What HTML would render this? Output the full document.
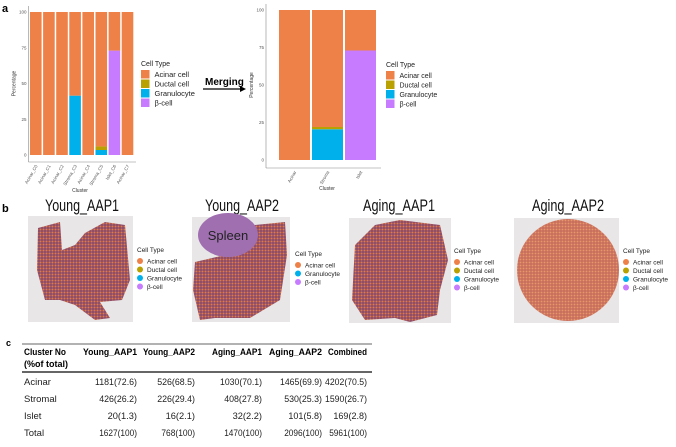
<!DOCTYPE html>
<html><head><meta charset="utf-8"><style>
html,body{margin:0;padding:0;background:#fff}
svg{display:block;font-family:"Liberation Sans",sans-serif}
</style></head><body>
<svg id="fig" width="676" height="447" viewBox="0 0 676 447" xmlns="http://www.w3.org/2000/svg">
<defs>
<pattern id="dots" width="3" height="3" patternUnits="userSpaceOnUse"><rect width="3" height="3" fill="#8a4a6a"/><circle cx="1.5" cy="1.5" r="1" fill="#e07a4a"/></pattern>
<pattern id="dots2" width="3" height="3" patternUnits="userSpaceOnUse"><rect width="3" height="3" fill="#c9705e"/><circle cx="1.5" cy="1.5" r="0.9" fill="#e8956a"/></pattern>
</defs>
<text x="2" y="12" font-size="11" font-weight="bold">a</text>
<g id="left"></g>
<g id="right"></g>
<g id="merge">
<text x="205" y="85" font-size="10" font-weight="bold" font-family="Liberation Sans,sans-serif">Merging</text>
<line x1="203" y1="89" x2="242" y2="89" stroke="#000" stroke-width="1.2"/>
<polygon points="246,89 240,86 240,92" fill="#000"/>
</g>

<text x="2" y="212" font-size="11" font-weight="bold">b</text>
<g id="tissues"></g>

<text x="6" y="346" font-size="9" font-weight="bold">c</text>
<g id="table"></g>
</svg>
<script>
const NS="http://www.w3.org/2000/svg";
function mk(tag,attrs,parent,txt){const e=document.createElementNS(NS,tag);for(const k in attrs)e.setAttribute(k,attrs[k]);if(txt!==undefined)e.textContent=txt;parent.appendChild(e);return e;}
const colors={acinar:"#ee8148",ductal:"#b8a100",gran:"#00b0eb",beta:"#c77cff"};
const legendLabels=["Acinar cell","Ductal cell","Granulocyte","β-cell"];
const legendColors=[colors.acinar,colors.ductal,colors.gran,colors.beta];

// Left chart data
const leftCats=["Acinar_C0","Acinar_C1","Acinar_C2","Stroma_C3","Acinar_C4","Stroma_C5","Islet_C6","Acinar_C7"];
const leftBeta=[0,0,0,0,0,0,73,0];
const leftGran=[0,0,0,41.5,0,3.5,0,0];
const leftDuctal=[0,0,0,0,0,2.5,0,0];
const leftAcinar=[100,100,100,58.5,100,94,27,100];
// Right chart data
const rightCats=["Acinar","Stroma","Islet"];
const rightBeta=[0,0,73];
const rightGran=[0,20.5,0];
const rightDuctal=[0,1.5,0];
const rightAcinar=[100,78,27];
const yTicks=[0,25,50,75,100];

function chart(g,cfg){
  const {cats,series,y0,ppu,axX,x0,step,bw,axY,axEnd,lblRot,clusterX,clusterY,legX,legY,rowH}=cfg;
  const y=v=>y0-v*ppu;
  mk("line",{x1:axX,y1:y(100)-6,x2:axX,y2:axY,stroke:"#888","stroke-width":0.6},g);
  mk("line",{x1:axX,y1:axY,x2:axEnd,y2:axY,stroke:"#888","stroke-width":0.6},g);
  yTicks.forEach(t=>{
    const tx=mk("text",{x:axX-2,y:y(t)+1.5,"font-size":4.5,fill:"#555","text-anchor":"end"},g,String(t));
    
    
  });
  const yt=mk("text",{x:0,y:0,"font-size":5,fill:"#333","text-anchor":"middle",transform:`translate(${axX-13},${y(50)}) rotate(-90)`},g,"Percentage");
  
  
  cats.forEach((c,i)=>{
    let acc=0;
    const bx=x0+i*step;
    series.forEach(s=>{
      const v=s.vals[i];
      if(v>0){
        const r=mk("rect",{x:bx,y:y(acc+v),width:bw,height:v*ppu,fill:s.color},g);
        
        
      }
      acc+=v;
    });
    const cx=bx+bw/2;
    const lt=mk("text",{x:0,y:0,"font-size":4.5,fill:"#555","text-anchor":"end",transform:`translate(${cx+2},${axY+4}) rotate(${lblRot})`},g,c);
    
    
  });
  const ct=mk("text",{x:clusterX,y:clusterY,"font-size":5,fill:"#333","text-anchor":"middle"},g,"Cluster");
  
  
  const lg=mk("g",{},g);
  
  
  mk("text",{x:legX,y:legY,"font-size":cfg.legTitle,fill:"#222"},lg,"Cell Type");
  legendLabels.forEach((l,i)=>{
    const ry=legY+4+i*rowH;
    const e=mk("g",{},lg);
    
    
    mk("rect",{x:legX,y:ry,width:rowH-1,height:rowH-1,fill:legendColors[i]},e);
    mk("text",{x:legX+rowH+4,y:ry+rowH-2.5,"font-size":cfg.legFont,fill:"#222"},e,l);
  });
}
const leftSeries=[{key:"beta",vals:leftBeta,color:colors.beta},{key:"granulocyte",vals:leftGran,color:colors.gran},{key:"ductal",vals:leftDuctal,color:colors.ductal},{key:"acinar",vals:leftAcinar,color:colors.acinar}];
const rightSeries=[{key:"beta",vals:rightBeta,color:colors.beta},{key:"granulocyte",vals:rightGran,color:colors.gran},{key:"ductal",vals:rightDuctal,color:colors.ductal},{key:"acinar",vals:rightAcinar,color:colors.acinar}];
const L=document.getElementById("left");
chart(L,{cats:leftCats,series:leftSeries,y0:155,ppu:1.43,axX:28.5,x0:30,step:13.1,bw:11.6,axY:162,axEnd:136,lblRot:-60,clusterX:80,clusterY:192,legX:141,legY:66,rowH:9.5,legTitle:7,legFont:7.5});
const R=document.getElementById("right");
chart(R,{cats:rightCats,series:rightSeries,y0:160,ppu:1.5,axX:266,x0:279,step:33,bw:31,axY:168,axEnd:381,lblRot:-60,clusterX:327,clusterY:190,legX:386,legY:67,rowH:9.5,legTitle:7,legFont:7});

// Tissue panels
const T=document.getElementById("tissues");
const tissues=[
 {name:"Young_AAP1",x:28,y:216,w:105,h:106,tc:82,tw:74,legX:137,legY:252,labels:legendLabels,shape:"M38,228 L60,222 L62,250 L75,245 L85,233 L105,222 L125,225 L130,280 L122,300 L100,302 L110,318 L95,320 L75,305 L60,300 L45,300 L37,270 Z",fill:"url(#dots)"},
 {name:"Young_AAP2",x:192,y:217,w:98,h:105,tc:242,tw:74,legX:295,legY:256,labels:["Acinar cell","Granulocyte","β-cell"],shape:"M195,262 L225,255 L255,225 L285,222 L287,255 L280,300 L250,318 L215,318 L200,320 L193,290 Z",fill:"url(#dots)"},
 {name:"Aging_AAP1",x:349,y:218,w:102,h:105,tc:399,tw:72,legX:454,legY:253,labels:legendLabels,shape:"M355,245 L375,225 L400,220 L440,225 L448,260 L440,290 L437,315 L410,322 L395,318 L365,320 L352,300 Z",fill:"url(#dots)"},
 {name:"Aging_AAP2",x:514,y:218,w:105,h:105,tc:568,tw:72,legX:623,legY:253,labels:legendLabels,circle:true,fill:"url(#dots2)"}
];
const legMap={"Acinar cell":colors.acinar,"Ductal cell":colors.ductal,"Granulocyte":colors.gran,"β-cell":colors.beta};
tissues.forEach(t=>{
  const g=mk("g",{},T);
  
  
  mk("text",{x:t.tc,y:211,"font-size":17,"text-anchor":"middle",fill:"#111",textLength:t.tw,lengthAdjust:"spacingAndGlyphs"},g,t.name);
  mk("rect",{x:t.x,y:t.y,width:t.w,height:t.h,fill:"#e8e6e6"},g);
  if(t.circle){mk("circle",{cx:568,cy:270,r:51,fill:t.fill},g);}
  else mk("path",{d:t.shape,fill:t.fill},g);
  if(t.name==="Young_AAP2"){
    mk("ellipse",{cx:228,cy:235,rx:30,ry:22,fill:"#9f6fb0"},g);
    mk("text",{x:228,y:240,"font-size":13,"text-anchor":"middle",fill:"#222"},g,"Spleen");
  }
  const lg=mk("g",{},g);
  
  
  mk("text",{x:t.legX,y:t.legY,"font-size":6.5,fill:"#222"},lg,"Cell Type");
  t.labels.forEach((l,i)=>{
    const cy=t.legY+9+i*8.5;
    mk("circle",{cx:t.legX+3,cy:cy,r:3,fill:legMap[l]},lg);
    mk("text",{x:t.legX+10,y:cy+2.3,"font-size":6.5,fill:"#222"},lg,l);
  });
});

// Table
const TB=document.getElementById("table");
const colHeaders=["Young_AAP1","Young_AAP2","Aging_AAP1","Aging_AAP2","Combined"];
const rowNames=["Acinar","Stromal","Islet","Total"];
const tableRows=[
 ["1181(72.6)","526(68.5)","1030(70.1)","1465(69.9)","4202(70.5)"],
 ["426(26.2)","226(29.4)","408(27.8)","530(25.3)","1590(26.7)"],
 ["20(1.3)","16(2.1)","32(2.2)","101(5.8)","169(2.8)"],
 ["1627(100)","768(100)","1470(100)","2096(100)","5961(100)"]
];
const colRight=[137,195,262,322,367];
const rowY=[385,402,419,436];
mk("line",{x1:22,y1:344,x2:372,y2:344,stroke:"#333","stroke-width":0.8},TB);
mk("line",{x1:22,y1:372,x2:372,y2:372,stroke:"#333","stroke-width":1.6},TB);
mk("text",{x:24,y:355,"font-size":9.5,"font-weight":"bold",textLength:42,lengthAdjust:"spacingAndGlyphs"},TB,"Cluster No");
mk("text",{x:24,y:367,"font-size":9.5,"font-weight":"bold",textLength:44,lengthAdjust:"spacingAndGlyphs"},TB,"(%of total)");
colHeaders.forEach((h,i)=>{
  const w=[54,52,50,53,39][i];
  mk("text",{x:colRight[i]-w,y:355,"font-size":9.5,"font-weight":"bold",textLength:w,lengthAdjust:"spacingAndGlyphs"},TB,h);
});
rowNames.forEach((r,j)=>{
  mk("text",{x:24,y:rowY[j],"font-size":9.5,fill:"#222"},TB,r);
  tableRows[j].forEach((v,i)=>{
    mk("text",{x:colRight[i],y:rowY[j],"font-size":9.5,"text-anchor":"end",fill:"#222",textLength:v.length*4.2,lengthAdjust:"spacingAndGlyphs"},TB,v);
  });
});
</script>
</body></html>
